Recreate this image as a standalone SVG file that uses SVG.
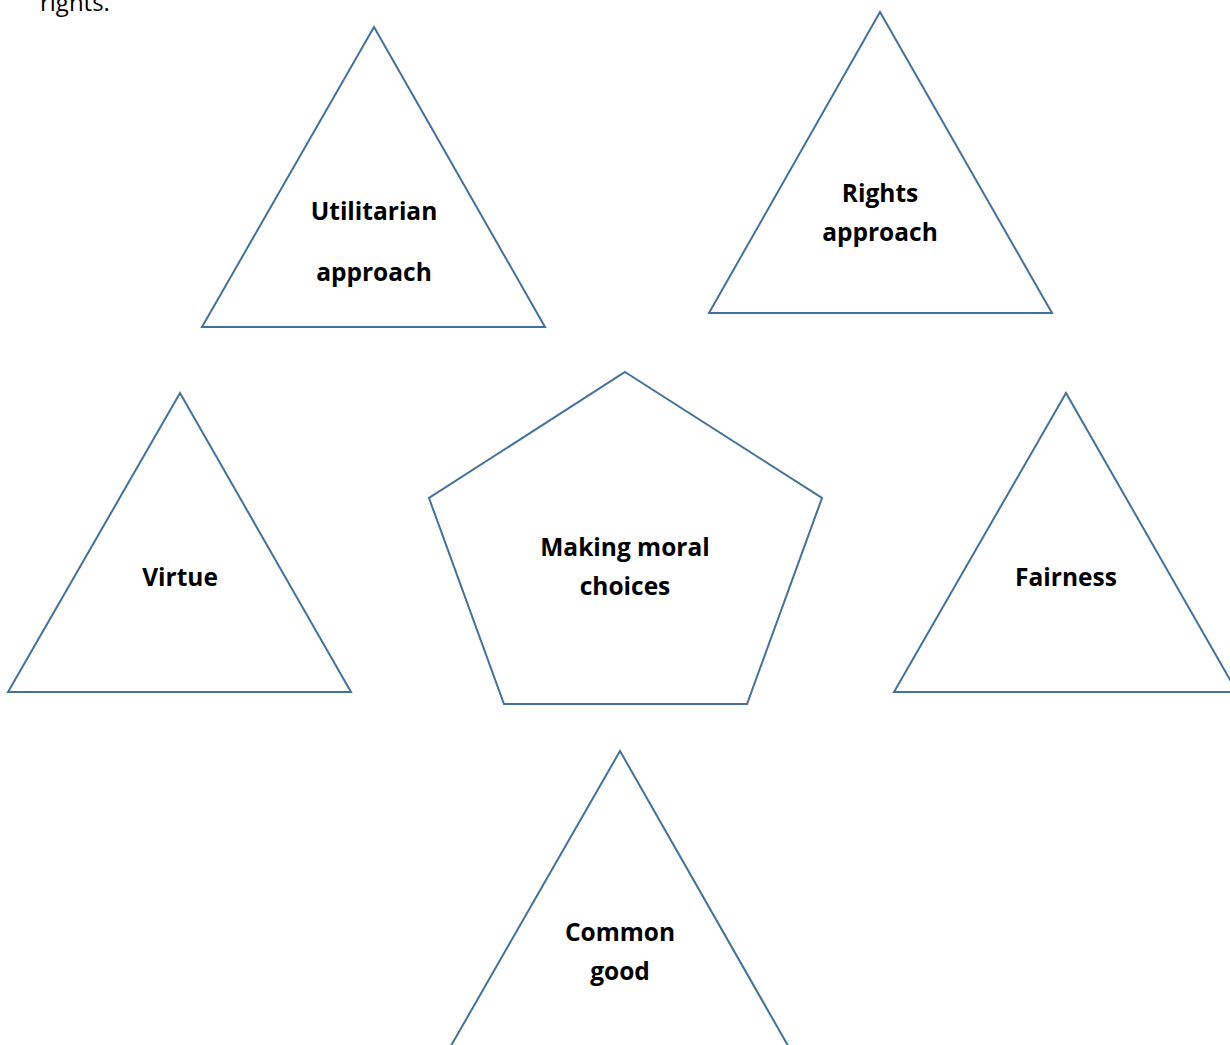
<svg xmlns="http://www.w3.org/2000/svg" width="1230" height="1045" viewBox="0 0 1230 1045">
<style>
.shape{fill:#ffffff;stroke:#41719c;stroke-width:2;stroke-linejoin:miter}
.lbl{font-family:"Open Sans","Liberation Sans",sans-serif;font-weight:bold;font-size:24.5px;fill:#000;text-anchor:middle}
.body{font-family:"Open Sans","Liberation Sans",sans-serif;font-size:24px;fill:#000}
</style>
<rect width="1230" height="1045" fill="#ffffff"/>
<text class="body" x="40" y="11">rights.</text>
<g id="connectors"></g>
<g id="utilitarian">
<polygon class="shape" points="374,27 545,327 202,327"/>
<text class="lbl" x="374" y="220">Utilitarian</text>
<text class="lbl" x="374" y="281">approach</text>
</g>
<g id="rights">
<polygon class="shape" points="880,12 1052,313 709,313"/>
<text class="lbl" x="880" y="202">Rights</text>
<text class="lbl" x="880" y="241">approach</text>
</g>
<g id="virtue">
<polygon class="shape" points="180,393 351,692 8,692"/>
<text class="lbl" x="180" y="586">Virtue</text>
</g>
<g id="center">
<polygon class="shape" points="625,372 822,498 747,704 504,704 429,498"/>
<text class="lbl" x="625" y="556">Making moral</text>
<text class="lbl" x="625" y="595">choices</text>
</g>
<g id="fairness">
<polygon class="shape" points="1066,393 1237,692 894,692"/>
<text class="lbl" x="1066" y="586">Fairness</text>
</g>
<g id="common">
<polygon class="shape" points="620,751 791,1051 448,1051"/>
<text class="lbl" x="620" y="941">Common</text>
<text class="lbl" x="620" y="980">good</text>
</g>
</svg>
